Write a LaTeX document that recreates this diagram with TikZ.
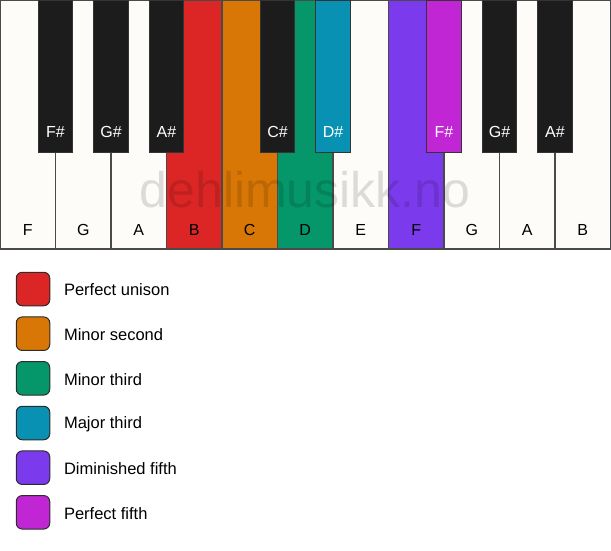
\documentclass[tikz,border=0pt]{standalone}
\usepackage{fontspec}
\setmainfont{Liberation Sans}
\usepackage{tikz}

\definecolor{keywhite}{HTML}{FDFCF9}
\definecolor{keyblack}{HTML}{1C1C1C}
\definecolor{keyline}{HTML}{4A4A4A}
\definecolor{unison}{HTML}{DC2626}
\definecolor{minsecond}{HTML}{D97706}
\definecolor{minthird}{HTML}{059669}
\definecolor{majthird}{HTML}{0891B2}
\definecolor{dimfifth}{HTML}{7C3AED}
\definecolor{perfifth}{HTML}{C026D3}

\tikzset{
  whitekey/.style={draw=keyline,line width=1.3pt,fill=keywhite,minimum width=55.5pt,minimum height=249pt,inner sep=0pt},
  blackkey/.style={draw=keyline!70!black,line width=0.9pt,fill=keyblack,minimum width=34.5pt,minimum height=152pt,inner sep=0pt},
  keyname/.style={font=\fontsize{16}{18}\selectfont,text=black},
  sharpname/.style={font=\fontsize{16}{18}\selectfont,text=white},
  swatch/.style={draw=keyline!60!black,line width=1pt,rounded corners=6pt,minimum width=33.5pt,minimum height=33.5pt,inner sep=0pt},
  legendtext/.style={font=\fontsize{16.5}{18}\selectfont,anchor=west}
}

\begin{document}
\begin{tikzpicture}[x=1pt,y=-1pt]
    \useasboundingbox (0,0) rectangle (611,550);
    % white keys
    \node[whitekey] (kF) at (27.75,124.5) {};
    \node[whitekey] (kG) at (83.25,124.5) {};
    \node[whitekey] (kA) at (138.75,124.5) {};
    \node[whitekey,fill=unison] (kB) at (194.25,124.5) {};
    \node[whitekey,fill=minsecond] (kC) at (249.75,124.5) {};
    \node[whitekey,fill=minthird] (kD) at (305.25,124.5) {};
    \node[whitekey] (kE) at (360.75,124.5) {};
    \node[whitekey,fill=dimfifth] (kF2) at (416.25,124.5) {};
    \node[whitekey] (kG2) at (471.75,124.5) {};
    \node[whitekey] (kA2) at (527.25,124.5) {};
    \node[whitekey] (kB2) at (582.75,124.5) {};
    \node[keyname] (nF) at (27.75,230) {F};
    \node[keyname] (nG) at (83.25,230) {G};
    \node[keyname] (nA) at (138.75,230) {A};
    \node[keyname] (nB) at (194.25,230) {B};
    \node[keyname] (nC) at (249.75,230) {C};
    \node[keyname] (nD) at (305.25,230) {D};
    \node[keyname] (nE) at (360.75,230) {E};
    \node[keyname] (nF2) at (416.25,230) {F};
    \node[keyname] (nG2) at (471.75,230) {G};
    \node[keyname] (nA2) at (527.25,230) {A};
    \node[keyname] (nB2) at (582.75,230) {B};
    % watermark
    \node[font=\fontsize{50}{54}\selectfont,text=black,text opacity=0.13] (mark) at (305,190) {dehlimusikk.no};
    % black keys
    \node[blackkey] (kFs) at (55.5,76) {};
    \node[blackkey] (kGs) at (111,76) {};
    \node[blackkey] (kAs) at (166.5,76) {};
    \node[blackkey] (kCs) at (277.5,76) {};
    \node[blackkey,fill=majthird] (kDs) at (333,76) {};
    \node[blackkey,fill=perfifth] (kFs2) at (444,76) {};
    \node[blackkey] (kGs2) at (499.5,76) {};
    \node[blackkey] (kAs2) at (555,76) {};
    \node[sharpname] (nFs) at (55.5,132) {F\#};
    \node[sharpname] (nGs) at (111,132) {G\#};
    \node[sharpname] (nAs) at (166.5,132) {A\#};
    \node[sharpname] (nCs) at (277.5,132) {C\#};
    \node[sharpname] (nDs) at (333,132) {D\#};
    \node[sharpname] (nFs2) at (444,132) {F\#};
    \node[sharpname] (nGs2) at (499.5,132) {G\#};
    \node[sharpname] (nAs2) at (555,132) {A\#};
    % legend
    \node[swatch,fill=unison] (sw1) at (33,289) {};
    \node[swatch,fill=minsecond] (sw2) at (33,333.7) {};
    \node[swatch,fill=minthird] (sw3) at (33,378.3) {};
    \node[swatch,fill=majthird] (sw4) at (33,423) {};
    \node[swatch,fill=dimfifth] (sw5) at (33,467.7) {};
    \node[swatch,fill=perfifth] (sw6) at (33,512.3) {};
    \node[legendtext] (lt1) at (60.5,290) {Perfect unison};
    \node[legendtext] (lt2) at (60.5,334.7) {Minor second};
    \node[legendtext] (lt3) at (60.5,379.3) {Minor third};
    \node[legendtext] (lt4) at (60.5,424) {Major third};
    \node[legendtext] (lt5) at (60.5,468.7) {Diminished fifth};
    \node[legendtext] (lt6) at (60.5,513.3) {Perfect fifth};
  \end{tikzpicture}
\end{document}
